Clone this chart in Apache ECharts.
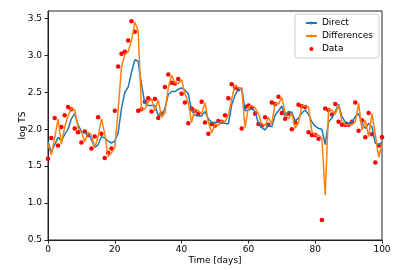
<!DOCTYPE html>
<html>
<head>
<meta charset="utf-8">
<script src="https://cdn.jsdelivr.net/npm/echarts@6/dist/echarts.min.js"></script>
<style>html,body{margin:0;padding:0;background:#fff}#c{width:398px;height:270px}</style>
</head>
<body>
<div id="c"></div>
<script>
const days = Array.from({length: 101}, (_, i) => i);
const dataValues = [1.60,1.88,2.15,1.78,2.03,2.19,2.30,2.27,2.01,1.96,
1.82,1.97,1.92,1.74,1.90,2.16,1.94,1.61,1.68,1.74,
2.25,2.85,3.02,3.05,3.20,3.46,3.32,2.25,2.27,2.37,
2.42,2.24,2.41,2.15,2.21,2.57,2.74,2.63,2.62,2.68,
2.48,2.36,2.08,2.28,2.25,2.21,2.37,2.09,1.94,2.07,
2.05,2.11,2.10,2.19,2.42,2.61,2.56,2.54,2.01,2.30,
2.32,2.29,2.21,2.07,2.05,2.16,2.06,2.36,2.34,2.44,
2.22,2.14,2.21,2.00,2.09,2.33,2.31,2.30,1.96,1.92,
1.92,1.87,0.77,2.28,2.26,2.20,2.34,2.10,2.06,2.06,
2.06,2.10,2.36,1.98,2.12,1.89,2.22,1.93,1.55,1.78,
1.89];
const differencesValues = [1.80,1.65,1.88,2.14,1.80,2.03,2.18,2.28,2.26,2.02,
1.96,1.83,1.96,1.92,1.75,1.90,2.14,1.94,1.63,1.68,
1.75,2.26,2.84,3.01,3.05,3.20,3.45,3.33,2.26,2.27,
2.37,2.41,2.25,2.40,2.16,2.22,2.56,2.73,2.63,2.62,
2.67,2.48,2.36,2.09,2.27,2.25,2.21,2.36,2.10,1.95,
2.07,2.05,2.11,2.10,2.19,2.41,2.60,2.56,2.54,2.02,
2.30,2.32,2.29,2.21,2.07,2.05,2.16,2.07,2.35,2.34,
2.43,2.22,2.14,2.21,2.01,2.09,2.32,2.31,2.30,1.97,
1.92,1.92,1.88,1.11,2.27,2.26,2.20,2.33,2.11,2.06,
2.06,2.06,2.10,2.35,1.99,2.12,1.90,2.21,1.93,1.62,
1.79];
const directValues = [1.83,1.69,1.79,1.89,1.84,1.93,2.00,2.14,2.21,2.06,
1.97,1.95,1.95,1.86,1.75,1.79,1.90,1.88,1.84,1.81,
1.84,1.95,2.28,2.50,2.57,2.77,2.94,2.92,2.60,2.35,
2.32,2.32,2.32,2.19,2.19,2.28,2.47,2.51,2.51,2.54,
2.56,2.53,2.48,2.25,2.19,2.18,2.18,2.24,2.14,2.09,
2.09,2.10,2.09,2.08,2.07,2.33,2.46,2.54,2.56,2.25,
2.26,2.28,2.24,2.08,2.02,1.99,2.06,2.03,2.19,2.25,
2.31,2.18,2.24,2.23,2.11,2.15,2.22,2.26,2.20,2.10,
2.04,2.01,2.00,1.79,2.10,2.15,2.24,2.34,2.17,2.10,
2.08,2.10,2.17,2.21,2.08,2.01,2.08,2.03,1.81,1.79,
1.82];
const xTicks = [0, 20, 40, 60, 80, 100];
const yTicks = [0.5, 1.0, 1.5, 2.0, 2.5, 3.0, 3.5];
const seriesNames = ['Direct', 'Differences', 'Data'];

const pair = (vals) => days.map((d, i) => [d, vals[i]]);
const font = 'DejaVu Sans';
const chart = echarts.init(document.getElementById('c'), null, {renderer: 'canvas'});
chart.setOption({
  animation: false,
  backgroundColor: '#fff',
  grid: {left: 48, right: 16, top: 11, bottom: 27, show: true, borderColor: '#222', borderWidth: 1, containLabel: false},
  legend: {
    orient: 'vertical', right: 19, top: 14,
    padding: [4, 6, 4, 10], itemGap: 3,
    itemWidth: 11, itemHeight: 4,
    borderColor: '#ccc', borderWidth: 1, borderRadius: 3,
    textStyle: {fontFamily: font, fontSize: 9, color: '#000', lineHeight: 10},
    data: [
      {name: seriesNames[0]},
      {name: seriesNames[1]},
      {name: seriesNames[2], icon: 'circle', itemStyle: {opacity: 1}}
    ]
  },
  xAxis: {
    type: 'value', min: 0, max: 100, interval: 20,
    name: 'Time [days]', nameLocation: 'middle', nameGap: 16, nameMoveOverlap: false,
    nameTextStyle: {fontFamily: font, fontSize: 9, color: '#000'},
    axisLine: {lineStyle: {color: '#222'}},
    axisTick: {length: 3.5, lineStyle: {color: '#222'}, customValues: xTicks},
    axisLabel: {fontFamily: font, fontSize: 9, color: '#000', margin: 5, customValues: xTicks},
    splitLine: {show: false}
  },
  yAxis: {
    type: 'value', min: 0.5, max: 3.6, interval: 0.5,
    name: 'log TS', nameLocation: 'middle', nameGap: 21, nameMoveOverlap: false,
    nameTextStyle: {fontFamily: font, fontSize: 9, color: '#000'},
    axisLine: {show: true, lineStyle: {color: '#222'}},
    axisTick: {show: true, length: 3.5, lineStyle: {color: '#222'}, customValues: yTicks},
    axisLabel: {fontFamily: font, fontSize: 9, color: '#000', margin: 6, customValues: yTicks,
      formatter: v => v.toFixed(1)},
    splitLine: {show: false}
  },
  series: [
    {name: seriesNames[0], type: 'line', data: pair(directValues), symbol: 'none',
     lineStyle: {color: '#1f77b4', width: 1.5}, itemStyle: {color: '#1f77b4'}},
    {name: seriesNames[1], type: 'line', data: pair(differencesValues), symbol: 'none',
     lineStyle: {color: '#ff7f0e', width: 1.5}, itemStyle: {color: '#ff7f0e'}},
    {name: seriesNames[2], type: 'scatter', data: pair(dataValues), symbolSize: 4.5,
     itemStyle: {color: '#ff0000', opacity: 1}}
  ]
});
</script>
</body>
</html>
